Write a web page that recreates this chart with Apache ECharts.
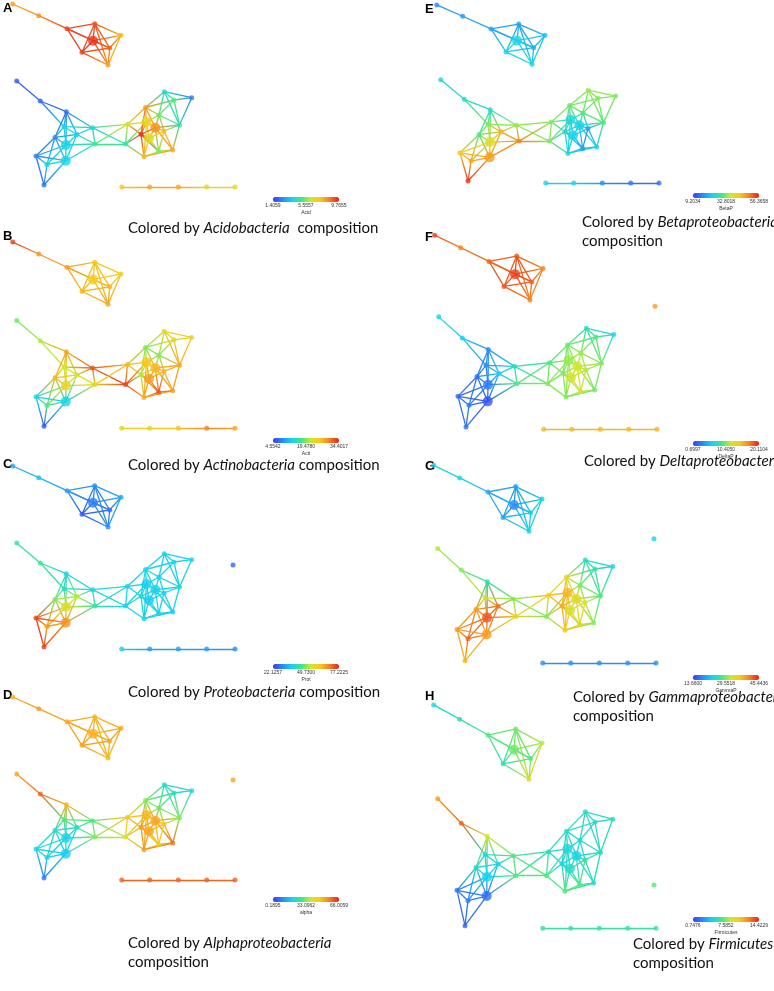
<!DOCTYPE html>
<html><head><meta charset="utf-8">
<script src="https://cdn.jsdelivr.net/npm/echarts@6/dist/echarts.min.js"></script>
<style>html,body{margin:0;padding:0;background:#fff}#c{width:774px;height:991px}</style>
</head><body><div id="c"></div>
<script>
// ---------------- DATA ----------------
const panelLetters = ['A','B','C','D','E','F','G','H'];
const taxa = ['Acidobacteria','Actinobacteria','Proteobacteria','Alphaproteobacteria','Betaproteobacteria','Deltaproteobacteria','Gammaproteobacteria','Firmicutes'];
const scaleTitles = ['Acid','Acti','Prot','alpha','BetaP','DeltaP','GammaP','Firmicutes'];
const tickLabels = [
  ['1.4059','5.5557','9.7655'],
  ['4.5542','19.4780','34.4017'],
  ['22.1257','49.7300','77.2225'],
  ['0.1895','33.0962','66.0059'],
  ['9.2034','32.8018','56.3658'],
  ['0.6997','10.4050','20.1104'],
  ['13.6600','29.5518','45.4436'],
  ['0.7476','7.5852','14.4229']
];
// node layout (shared Mapper graph): t0-t8 top component, b* left cluster, r* right cluster, l* chain, iso (last)
const nodeX = [12.7,38.7,67,93,94.7,121,82,109.7,108,
  16.7,40.3,66.3,55,64,66,65.7,36,44,77,92.5,95,125.5,127.5,47,
  145.5,146.5,155.3,141,149,144,158.7,172.7,179.5,191.7,164.3,174,159,164,
  121.7,149.7,178.3,206.7,235, 233];
const nodeY = [4,15.7,28.7,40.7,23.7,35.3,52.3,48,65,
  81,101,111.7,137.3,126.7,145,160.7,156,185,134.5,127.7,144,144,124.3,164.5,
  107.5,122,127.7,134.3,138.3,156.7,151.5,150,125,97.7,91.7,100,115,131,
  187,187,187,187,187, 85];
// vertical position of the isolated node in each panel (null = not present)
const isoY = [null,null,103,87,null,71,72,151.6];
const bigNodes = [3,14,15,25,26,28];
const edges = [
  [0,1],[1,2],[2,4],[2,3],[2,6],[2,7],[4,3],[4,5],[4,6],[4,7],[4,8],[5,3],[5,7],[5,8],[6,3],[6,7],[6,8],[3,7],[3,8],[7,8],
  [9,10],[10,11],[10,13],[11,13],[11,12],[11,18],[11,19],[11,14],[13,12],[13,18],[13,14],[13,19],[12,14],[12,16],[12,18],[12,23],[12,15],
  [14,18],[14,15],[14,20],[14,16],[14,23],[18,19],[18,20],[18,15],[15,23],[15,17],[15,20],[16,23],[16,17],[23,17],[16,15],[19,20],[19,22],[19,21],[20,21],[20,22],
  [21,22],[22,24],[22,25],[22,27],[21,27],[21,29],[21,25],
  [24,34],[24,36],[24,25],[24,26],[24,27],[24,35],[34,35],[34,33],[34,36],[34,32],[35,33],[35,32],[35,36],[33,32],[36,26],[36,32],[36,25],[36,37],
  [25,26],[25,27],[25,28],[26,27],[26,28],[26,32],[26,37],[26,30],[26,31],[27,28],[27,29],[28,29],[28,30],[28,37],[29,30],[29,31],[30,31],[30,37],
  [31,32],[31,37],[37,32],[25,29],[27,30],
  [38,39],[39,40],[40,41],[41,42]
];
// composition of each node, as a share of its panel's colour-scale range (0 = min, 1 = max); null = node absent
const compA = [0.8,0.82,0.95,0.97,0.93,0.75,0.95,0.9,0.8, 0.05,0.08,0.1,0.15,0.3,0.3,0.3,0.12,0.1,0.28,0.33,0.42,0.4,0.62,0.3,
  0.8,0.66,0.82,0.97,0.64,0.76,0.5,0.78,0.38,0.12,0.33,0.45,0.48,0.74, 0.72,0.78,0.78,0.66,0.64, null];
const compB = [0.95,0.82,0.8,0.7,0.72,0.68,0.75,0.75,0.78, 0.48,0.55,0.78,0.75,0.58,0.65,0.3,0.3,0.05,0.6,0.92,0.65,0.95,0.75,0.45,
  0.5,0.72,0.75,0.55,0.8,0.78,0.92,0.8,0.78,0.68,0.65,0.65,0.5,0.75, 0.66,0.66,0.72,0.85,0.78, null];
const compC = [0.2,0.25,0.18,0.12,0.15,0.2,0.05,0.1,0.15, 0.4,0.42,0.3,0.5,0.35,0.62,0.82,0.95,0.95,0.55,0.32,0.4,0.3,0.3,0.8,
  0.3,0.28,0.3,0.32,0.28,0.3,0.3,0.28,0.3,0.3,0.28,0.3,0.3,0.3, 0.28,0.18,0.18,0.18,0.15, 0.08];
const compD = [0.78,0.8,0.78,0.76,0.75,0.78,0.8,0.78,0.75, 0.78,0.9,0.75,0.35,0.45,0.3,0.28,0.3,0.12,0.35,0.45,0.5,0.62,0.72,0.3,
  0.5,0.75,0.78,0.8,0.78,0.8,0.68,0.88,0.5,0.32,0.35,0.35,0.48,0.72, 0.9,0.9,0.9,0.9,0.9, 0.78];
const compE = [0.15,0.18,0.2,0.3,0.18,0.25,0.3,0.22,0.3, 0.32,0.35,0.35,0.45,0.5,0.62,0.8,0.72,0.97,0.75,0.52,0.85,0.5,0.5,0.78,
  0.48,0.32,0.3,0.33,0.3,0.3,0.18,0.28,0.45,0.5,0.52,0.5,0.45,0.2, 0.3,0.3,0.15,0.1,0.1, null];
const compF = [0.95,0.85,0.9,0.95,0.92,0.85,0.92,0.9,0.85, 0.3,0.28,0.15,0.1,0.15,0.12,0.05,0.08,0.1,0.28,0.35,0.45,0.5,0.45,0.12,
  0.48,0.52,0.58,0.5,0.6,0.5,0.6,0.48,0.5,0.3,0.35,0.45,0.52,0.55, 0.75,0.75,0.75,0.75,0.75, 0.8];
const compG = [0.3,0.3,0.2,0.15,0.18,0.28,0.2,0.28,0.3, 0.55,0.5,0.38,0.8,0.62,0.92,0.8,0.8,0.75,0.88,0.5,0.65,0.5,0.7,0.9,
  0.65,0.75,0.65,0.78,0.62,0.72,0.65,0.5,0.45,0.3,0.35,0.38,0.5,0.6, 0.15,0.15,0.15,0.15,0.15, 0.3];
const compH = [0.3,0.38,0.45,0.48,0.48,0.55,0.38,0.45,0.62, 0.8,0.9,0.6,0.35,0.32,0.28,0.1,0.1,0.08,0.3,0.45,0.45,0.45,0.35,0.12,
  0.35,0.32,0.3,0.3,0.35,0.45,0.45,0.35,0.35,0.35,0.35,0.35,0.32,0.4, 0.4,0.4,0.4,0.4,0.4, 0.45];
const comps = [compA,compB,compC,compD,compE,compF,compG,compH];

// ---------------- LAYOUT / STYLE ----------------
const JET = ['#3c3cf0','#2a8af5','#16d2f0','#3ee68c','#c8ea2e','#f8c81e','#f5801e','#e5201c'];
// [left, top, vertical stretch] of each panel's graph area
const panelPos = [[0,0,1],[0,238,1.018],[0,462,1],[0,693,1],[424,1,0.973],[422,231,1.06],[421,461,1.08],[421,700,1.22]];
const letterPos = [[3,7.5],[3,235.5],[3,464],[3,695],[425,8.5],[425,237],[425,466],[425,696]];
const barPos = [[273,197],[273,438],[273,664],[273,897],[693,193],[693,441],[693,675],[693,917]];
const capPos = [[128,228],[128,465],[128,692],[128,943],[582,222],[584,461],[573,697],[633,944]];
const capTwoLine = [false,false,false,true,true,false,true,true];
const capSep = ['  ',' ',' ',' ',' ',' ',' ',' '];

function hexToRgb(h){return [parseInt(h.slice(1,3),16),parseInt(h.slice(3,5),16),parseInt(h.slice(5,7),16)];}
const JETRGB = JET.map(hexToRgb);
function jet(v){
  const t = Math.max(0,Math.min(1,v))*(JET.length-1);
  const i = Math.min(Math.floor(t), JET.length-2), f = t-i;
  const a = JETRGB[i], b = JETRGB[i+1];
  return 'rgb('+a.map((c,k)=>Math.round(c+(b[k]-c)*f)).join(',')+')';
}

const grid=[], xAxis=[], yAxis=[], series=[], visualMap=[], graphic=[];
const capFont = 'Lato, "Open Sans", sans-serif';
const ISO = nodeX.length-1;
panelLetters.forEach((L,p)=>{
  const [ox,oy,sy] = panelPos[p];
  grid.push({left:ox, top:oy, width:240, height:200*sy});
  xAxis.push({gridIndex:p, type:'value', min:0, max:240, show:false});
  yAxis.push({gridIndex:p, type:'value', min:0, max:200, inverse:true, show:false});
  const comp = comps[p];
  const ys = nodeY.map((y,i)=> i===ISO ? isoY[p] : y);
  const lineData = [];
  edges.forEach(([s,t])=>{
    if(comp[s]==null||comp[t]==null) return;
    const x0 = nodeX[s]<=nodeX[t]?0:1, y0 = ys[s]<=ys[t]?0:1;
    lineData.push({coords:[[nodeX[s],ys[s]],[nodeX[t],ys[t]]],
      lineStyle:{color:new echarts.graphic.LinearGradient(x0,y0,1-x0,1-y0,[{offset:0,color:jet(comp[s])},{offset:1,color:jet(comp[t])}])}});
  });
  series.push({type:'lines', coordinateSystem:'cartesian2d', xAxisIndex:p, yAxisIndex:p, silent:true, z:1,
    lineStyle:{width:1.3, opacity:1, curveness:0}, data:lineData, animation:false});
  const nodeData = [];
  comp.forEach((v,i)=>{ if(v!=null && ys[i]!=null) nodeData.push({value:[nodeX[i],ys[i],v], symbolSize: bigNodes.includes(i)?10:5}); });
  series.push({type:'scatter', xAxisIndex:p, yAxisIndex:p, silent:true, z:3, data:nodeData, animation:false, clip:false});
  visualMap.push({type:'continuous', seriesIndex:series.length-1, dimension:2, min:0, max:1,
    calculable:false, orient:'horizontal', left:barPos[p][0], top:barPos[p][1], itemWidth:5, itemHeight:66,
    padding:0, text:null, showLabel:false, hoverLink:false, inRange:{color:JET}});
  graphic.push({type:'text', left:letterPos[p][0], top:letterPos[p][1]-6, style:{text:L, font:'bold 13px "Liberation Sans", Arial', fill:'#000'}});
  const [bx,by] = barPos[p];
  tickLabels[p].forEach((tl,k)=>{
    graphic.push({type:'text', x:bx+33*k, y:by+9, style:{text:tl, font:'5px "Liberation Sans", Arial', fill:'#333', align:'center', verticalAlign:'middle'}});
  });
  graphic.push({type:'text', x:bx+33, y:by+15.5, style:{text:scaleTitles[p], font:'5px "Liberation Sans", Arial', fill:'#333', align:'center', verticalAlign:'middle'}});
  const [cx,cy] = capPos[p];
  const rich = {n:{fontFamily:capFont, fontSize:15, fill:'#111'}, i:{fontFamily:capFont, fontSize:15, fontStyle:'italic', fill:'#111'}};
  const txt = capTwoLine[p] ? '{n|Colored by }{i|'+taxa[p]+'}\n{n|composition}' : '{n|Colored by }{i|'+taxa[p]+'}{n|'+capSep[p]+'composition}';
  graphic.push({type:'text', x:cx, y:cy-9, style:{text:txt, rich:rich, lineHeight:19, font:'15px '+capFont, fill:'#111'}});
});

const chart = echarts.init(document.getElementById('c'), null, {renderer:'canvas'});
chart.setOption({animation:false, backgroundColor:'#fff', grid, xAxis, yAxis, series, visualMap, graphic});
</script></body></html>
